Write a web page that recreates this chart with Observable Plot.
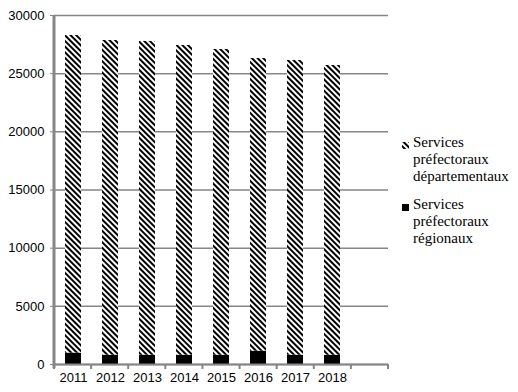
<!DOCTYPE html>
<html>
<head>
<meta charset="utf-8">
<script src="https://cdn.jsdelivr.net/npm/d3@7"></script>
<script src="https://cdn.jsdelivr.net/npm/@observablehq/plot@0.6"></script>
<style>
  html, body { margin: 0; padding: 0; background: #fff; }
</style>
</head>
<body>
<div id="chart"></div>
<script>
const years = ["2011", "2012", "2013", "2014", "2015", "2016", "2017", "2018"];
const totals = [28280, 27850, 27770, 27420, 27080, 26300, 26130, 25700];
const regionaux = [980, 800, 800, 800, 800, 1150, 800, 800];
const seriesNames = ["Services préfectoraux départementaux", "Services préfectoraux régionaux"];
const yTicks = [0, 5000, 10000, 15000, 20000, 25000, 30000];

const data = [];
years.forEach((y, i) => {
  data.push({year: y, series: seriesNames[1], value: regionaux[i]});
  data.push({year: y, series: seriesNames[0], value: totals[i] - regionaux[i]});
});

const domainX = [...years, " "];

const plot = Plot.plot({
  width: 518,
  height: 392,
  marginLeft: 54,
  marginRight: 130,
  marginTop: 15,
  marginBottom: 28,
  style: {fontFamily: "Liberation Sans, Arial, sans-serif", fontSize: "13px", color: "#000", background: "#fff"},
  x: {domain: domainX, paddingInner: 0.58, paddingOuter: 0.29, label: null},
  y: {domain: [0, 30000], label: null},
  color: {domain: seriesNames, range: ["url(#hatch)", "#000"]},
  marks: [
    Plot.gridY(yTicks, {stroke: "#868686", strokeOpacity: 1, strokeWidth: 1.5}),
    Plot.barY(data, {
      x: "year", y: "value", fill: "series", order: seriesNames.slice().reverse()
    }),
    Plot.axisY(yTicks, {tickSize: 4, tickPadding: 6, stroke: "#868686", tickFormat: d => String(d), fontSize: 13}),
    Plot.axisX({tickSize: 0, tickPadding: 8, fontSize: 13, tickFormat: d => d.trim()}),
    Plot.ruleY([0], {stroke: "#868686", strokeWidth: 2})
  ]
});

const svg = d3.select(plot);
const defs = svg.insert("defs", ":first-child");
const pat = defs.append("pattern")
  .attr("id", "hatch")
  .attr("patternUnits", "userSpaceOnUse")
  .attr("width", 4).attr("height", 4)
  .attr("patternTransform", "rotate(-45)");
pat.append("rect").attr("width", 4).attr("height", 4).attr("fill", "#fff");
pat.append("rect").attr("width", 2).attr("height", 4).attr("fill", "#000");

const yScale = plot.scale("y");
const x0 = 54, x1 = 388;
// left axis line (thick)
svg.append("line").attr("x1", x0).attr("x2", x0).attr("y1", yScale.apply(30000)).attr("y2", yScale.apply(0) + 4)
  .attr("stroke", "#868686").attr("stroke-width", 3);
// x axis tick marks at band boundaries
const step = (x1 - x0) / domainX.length;
const bx = d3.range(domainX.length + 1);
svg.append("g").selectAll("line").data(bx).join("line")
  .attr("x1", i => x0 + i * step).attr("x2", i => x0 + i * step)
  .attr("y1", yScale.apply(0)).attr("y2", yScale.apply(0) + 5)
  .attr("stroke", "#868686").attr("stroke-width", 2);

// legend
const leg = svg.append("g")
  .attr("font-family", "Liberation Serif, Times New Roman, serif")
  .attr("font-size", 15).attr("fill", "#000").attr("text-anchor", "start");
const entries = [
  {fill: "url(#hatch)", y: 142, lines: ["Services", "préfectoraux", "départementaux"], base: 147},
  {fill: "#000", y: 204, lines: ["Services", "préfectoraux", "régionaux"], base: 209}
];
entries.forEach(e => {
  leg.append("rect").attr("x", 402).attr("y", e.y).attr("width", 7).attr("height", 7).attr("fill", e.fill);
  e.lines.forEach((t, j) => {
    leg.append("text").attr("x", 413).attr("y", e.base + j * 17).text(t);
  });
});

document.getElementById("chart").appendChild(plot);
</script>
</body>
</html>
